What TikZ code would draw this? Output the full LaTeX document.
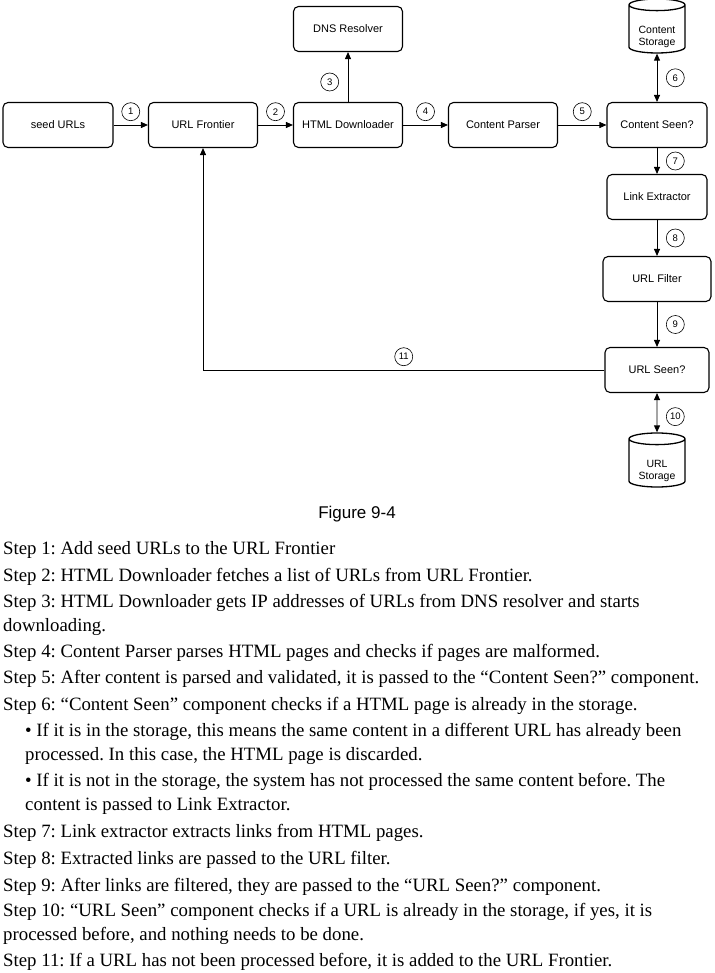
\documentclass[tikz,border=0pt]{standalone}
\usepackage{fontspec}
\setmainfont{Liberation Serif}
\setsansfont{Liberation Sans}
\usetikzlibrary{shapes.geometric,arrows.meta}
\frenchspacing

\begin{document}
\begin{tikzpicture}[x=1pt, y=-1pt,
  comp/.style={draw, rounded corners=5pt, line width=1.1pt, minimum height=45pt,
    font=\sffamily\fontsize{11}{13}\selectfont},
  store/.style={draw, cylinder, shape border rotate=90, aspect=0.3, line width=1.3pt,
    minimum width=56pt, minimum height=54pt, inner sep=1pt,
    text height=22pt, text depth=2.8pt,
    font=\sffamily\fontsize{10.5}{12.5}\selectfont},
  num/.style={draw, circle, line width=0.6pt, inner sep=0pt, minimum size=18pt,
    font=\sffamily\fontsize{9.5}{10}\selectfont},
  flow/.style={-{Triangle[length=7pt,width=6pt]}, line width=0.9pt},
  twoway/.style={{Triangle[length=7pt,width=6pt]}-{Triangle[length=7pt,width=6pt]}, line width=0.9pt},
  steptext/.style={anchor=base west, align=left, inner sep=0pt,
    font=\fontsize{18.8}{23.5}\selectfont}]

\useasboundingbox (0,0) rectangle (714,973);

% crawler components
\node[comp, minimum width=110pt] (seed)   at (58,125)  {seed URLs};
\node[comp, minimum width=109pt] (front)  at (203,125) {URL Frontier};
\node[comp, minimum width=109pt] (down)   at (348,125) {HTML Downloader};
\node[comp, minimum width=109pt] (dns)    at (348,29)  {DNS Resolver};
\node[comp, minimum width=109pt] (parser) at (503,125) {Content Parser};
\node[comp, minimum width=100pt] (cseen)  at (657,125) {Content Seen?};
\node[comp, minimum width=100pt] (links)  at (657,197) {Link Extractor};
\node[comp, minimum width=108pt] (filter) at (657,279) {URL Filter};
\node[comp, minimum width=104pt] (useen)  at (657,370) {URL Seen?};

\node[store] (cstore) at (657,30)  {\begin{tabular}{@{}c@{}}Content\\Storage\end{tabular}};
\node[store] (ustore) at (657,464) {\begin{tabular}{@{}c@{}}URL\\Storage\end{tabular}};

% numbered flows
\draw[flow] (seed) -- node[num, above=4pt] {1} (front);
\draw[flow] (front) -- node[num, above=4pt] {2} (down);
\draw[flow] (down) -- node[num, pos=0.4, left=9pt] {3} (dns);
\draw[flow] (down) -- node[num, above=4pt] {4} (parser);
\draw[flow] (parser) -- node[num, above=4pt] {5} (cseen);
\draw[twoway] (cseen.north) -- node[num, right=9pt] {6} (cstore.south);
\draw[flow] (cseen) -- node[num, right=9pt] {7} (links);
\draw[flow] (links) -- node[num, right=9pt] {8} (filter);
\draw[flow] (filter) -- node[num, right=9pt] {9} (useen);
\draw[twoway] (useen.south) -- node[num, pos=0.6, right=9pt] {10} (ustore.north);
\draw[flow] (useen.west) -| node[num, pos=0.25, above=4pt] {11} (front.south);

\node[font=\sffamily\fontsize{17}{20}\selectfont] (caption) at (357,514) {Figure 9-4};

% steps (multi-line nodes sit on the baseline of their last line)
\node[steptext] (s1)  at (3,554)  {Step 1: Add seed URLs to the URL Frontier};
\node[steptext] (s2)  at (3,581)  {Step 2: HTML Downloader fetches a list of URLs from URL Frontier.};
\node[steptext] (s3)  at (3,631)  {Step 3: HTML Downloader gets IP addresses of URLs from DNS resolver and starts\\downloading.};
\node[steptext] (s4)  at (3,657)  {Step 4: Content Parser parses HTML pages and checks if pages are malformed.};
\node[steptext] (s5)  at (3,683)  {Step 5: After content is parsed and validated, it is passed to the “Content Seen?” component.};
\node[steptext] (s6)  at (3,710)  {Step 6: “Content Seen” component checks if a HTML page is already in the storage.};
\node[steptext] (s6a) at (25,760) {• If it is in the storage, this means the same content in a different URL has already been\\processed. In this case, the HTML page is discarded.};
\node[steptext] (s6b) at (25,810) {• If it is not in the storage, the system has not processed the same content before. The\\content is passed to Link Extractor.};
\node[steptext] (s7)  at (3,837)  {Step 7: Link extractor extracts links from HTML pages.};
\node[steptext] (s8)  at (3,864)  {Step 8: Extracted links are passed to the URL filter.};
\node[steptext] (s9)  at (3,891)  {Step 9: After links are filtered, they are passed to the “URL Seen?” component.};
\node[steptext] (s10) at (3,940)  {Step 10: “URL Seen” component checks if a URL is already in the storage, if yes, it is\\processed before, and nothing needs to be done.};
\node[steptext] (s11) at (3,966)  {Step 11: If a URL has not been processed before, it is added to the URL Frontier.};

\end{tikzpicture}
\end{document}
